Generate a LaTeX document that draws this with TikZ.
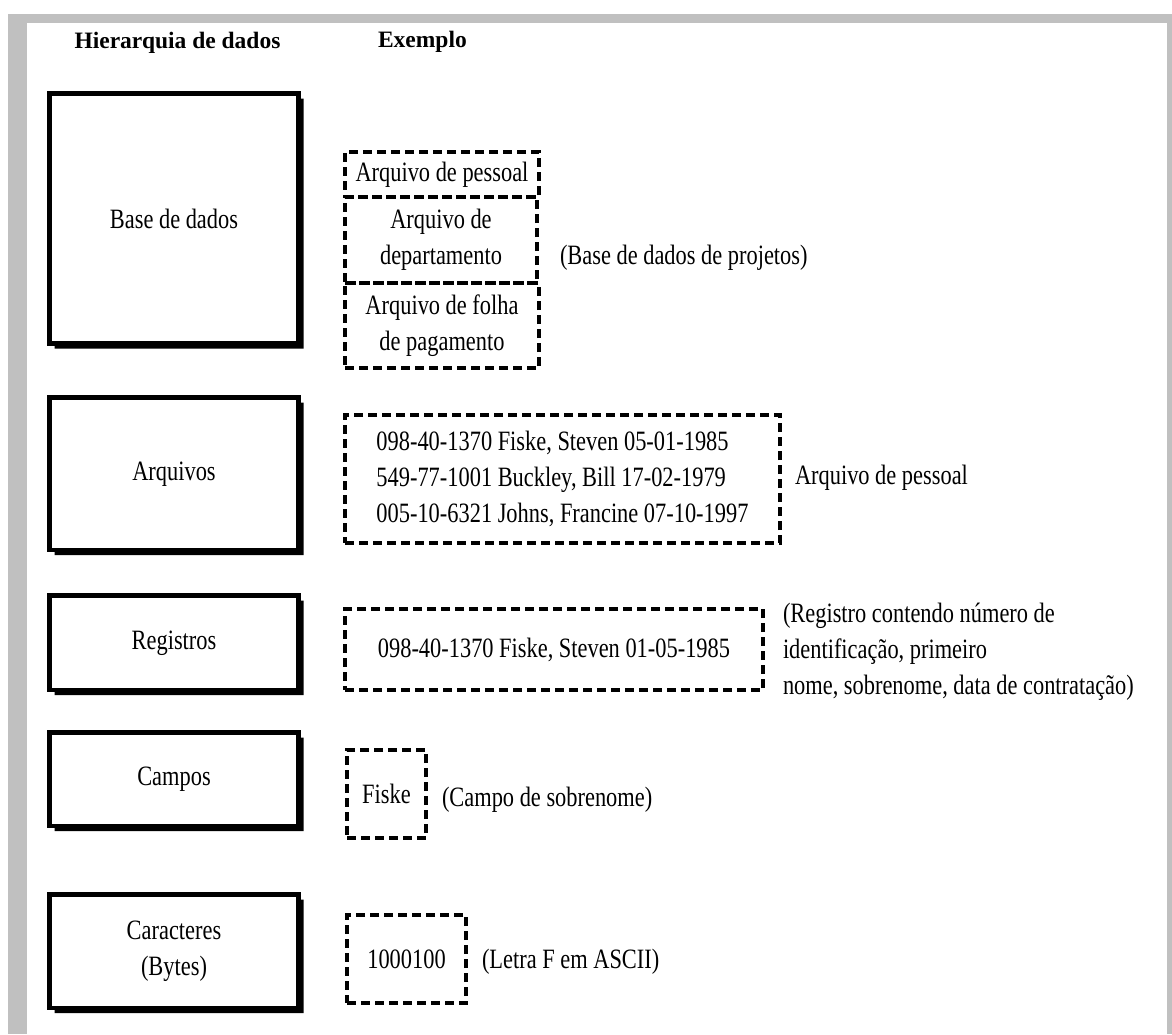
\documentclass[tikz,border=0pt]{standalone}
\usepackage{fontspec}
\setmainfont[FakeStretch=0.8]{Liberation Serif}
\newfontfamily\headfont{Liberation Serif}
\definecolor{framegray}{RGB}{192,192,192}
\begin{document}
\begin{tikzpicture}[x=1pt,y=-1pt,
  lbl/.style={font=\fontsize{28}{36}\selectfont, inner sep=0pt, outer sep=0pt},
  head/.style={lbl, font=\headfont\fontsize{23.5}{28}\selectfont\bfseries},
  levelbox/.style={draw, line width=4.5pt, lbl, align=center, minimum width=249pt},
  dbox/.style={draw, line width=3.5pt, dash pattern=on 9pt off 5pt, lbl, align=center},
  note/.style={lbl, anchor=west, align=left}]

% page and grey frame
\fill[white] (0,0) rectangle (1172,1034);
\fill[framegray] (8,14) rectangle (1172,1034);
\fill[white] (27,23) rectangle (1167,1034);
\useasboundingbox (0,0) rectangle (1172,1034);

% column headings
\node[head] (h1) at (177.5,43) {Hierarquia de dados};
\node[head, anchor=west] (h2) at (378,42) {Exemplo};

% hierarchy levels
\node[levelbox, minimum height=250pt]   (bd)  at (174,218.5)  {Base de dados};
\node[levelbox, minimum height=152.5pt] (arq) at (174,473.75) {Arquivos};
\node[levelbox, minimum height=94.5pt]  (reg) at (174,642.75) {Registros};
\node[levelbox, minimum height=93.5pt]  (cam) at (174,779.25) {Campos};
\node[levelbox, minimum height=113.5pt] (car) at (174,951.25) {Caracteres\\(Bytes)};

% drop shadows on the right and bottom edges
\foreach \n in {bd,arq,reg,cam,car}
  \fill ([yshift=-5pt]\n.north east) -- ([xshift=5pt,yshift=-5pt]\n.north east)
     -- ([xshift=5pt,yshift=-5pt]\n.south east) -- ([xshift=5pt,yshift=-5pt]\n.south west)
     -- ([xshift=5pt]\n.south west) -- (\n.south east) -- cycle;

% database example
\node[dbox, minimum width=194pt, minimum height=45pt] (pes) at (442,174.5) {Arquivo de pessoal};
\node[dbox, minimum width=192pt, minimum height=86pt] (dep) at (441,240) {Arquivo de\\departamento};
\node[dbox, minimum width=194pt, minimum height=85pt] (fol) at (442,325.5) {Arquivo de folha\\de pagamento};
\node[note] (bdn) at (560,258) {(Base de dados de projetos)};

% file example
\node[dbox, align=left, minimum width=435pt, minimum height=128pt] (arqx) at (562.5,479)
  {098-40-1370 Fiske, Steven 05-01-1985\\549-77-1001 Buckley, Bill 17-02-1979\\005-10-6321 Johns, Francine 07-10-1997};
\node[note] (arqn) at (795,478) {Arquivo de pessoal};

% record example
\node[dbox, minimum width=418pt, minimum height=81pt] (regx) at (554,649.5) {098-40-1370 Fiske, Steven 01-05-1985};
\node[note] (regn) at (783,652) {(Registro contendo número de\\identificação, primeiro\\nome, sobrenome, data de contratação)};

% field example
\node[dbox, minimum width=79pt, minimum height=88pt] (fis) at (386.5,794) {Fiske};
\node[note] (fisn) at (442,800) {(Campo de sobrenome)};

% character example
\node[dbox, minimum width=119pt, minimum height=88pt] (asc) at (406.5,959) {1000100};
\node[note] (ascn) at (482,962) {(Letra F em ASCII)};
\end{tikzpicture}
\end{document}
